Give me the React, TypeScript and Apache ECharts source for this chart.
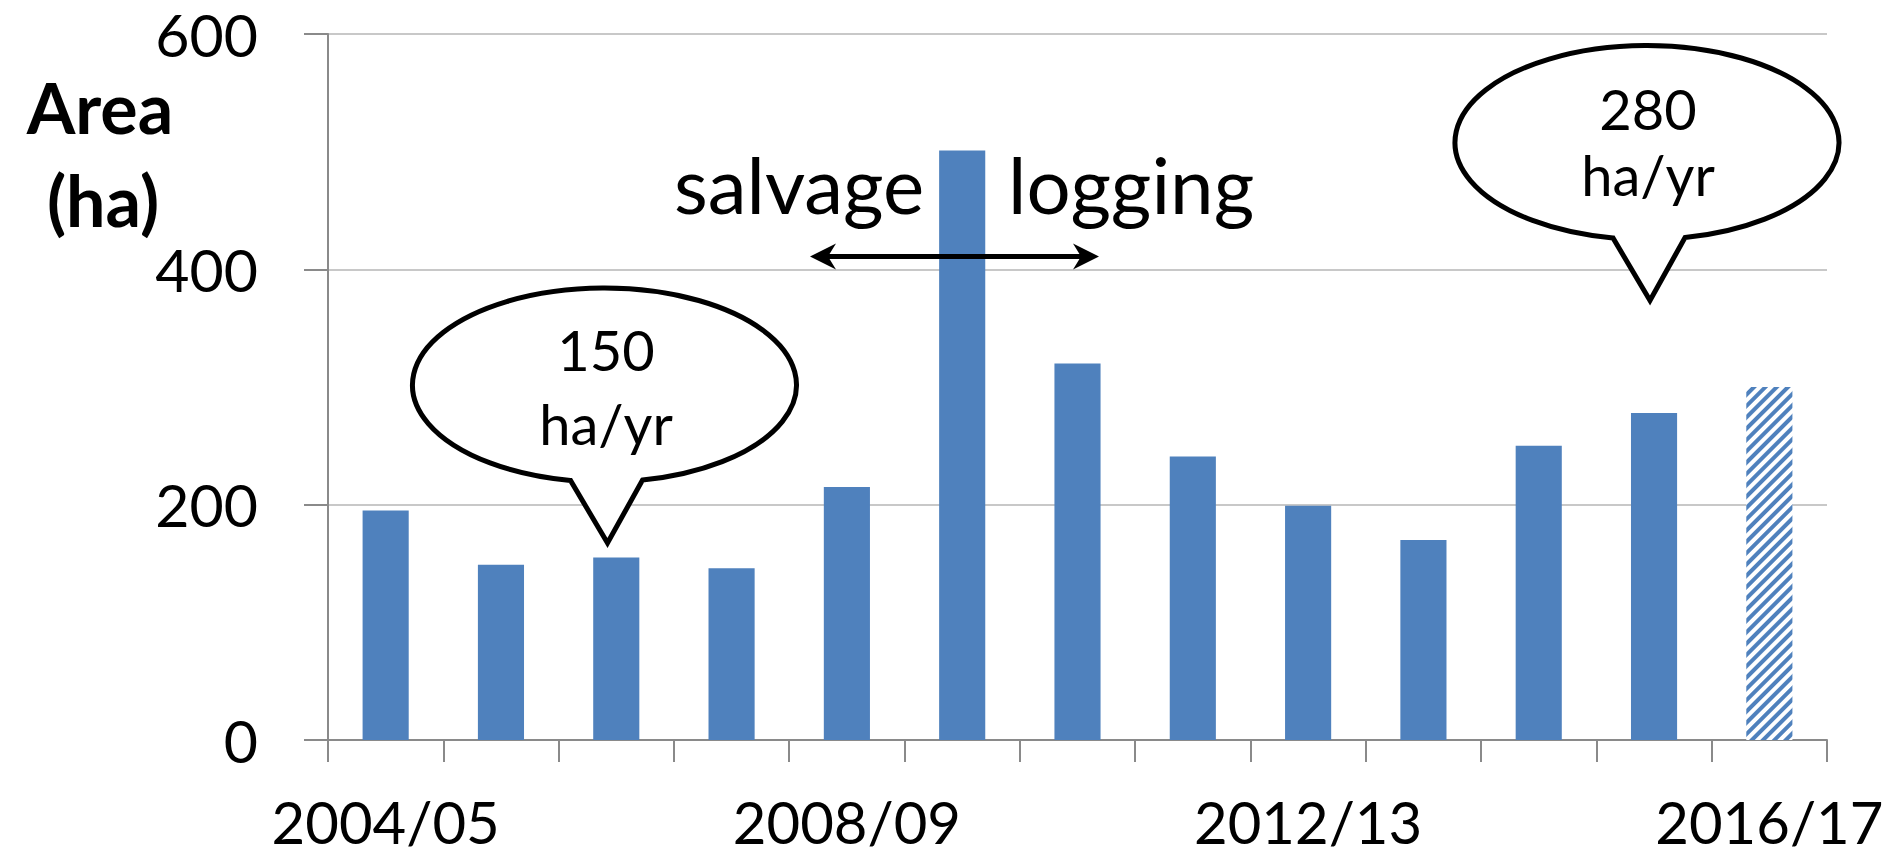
import React, { useEffect, useRef } from 'react';
import * as echarts from 'echarts';

const categories = [
  '2004/05', '2005/06', '2006/07', '2007/08', '2008/09', '2009/10', '2010/11',
  '2011/12', '2012/13', '2013/14', '2014/15', '2015/16', '2016/17',
];
const areaValues = [195, 149, 155, 146, 215, 501, 320, 241, 199, 170, 250, 278, 300];
const estimatedFlags = [false, false, false, false, false, false, false, false, false, false, false, false, true];
const yAxisMin = 0;
const yAxisMax = 600;
const yAxisStep = 200;
const yAxisTitleLines = ['Area', '(ha)'];
const periodLabels = ['salvage', 'logging'];
const balloonTexts = [
  ['150', 'ha/yr'],
  ['280', 'ha/yr'],
];

const BAR_BLUE = '#4F81BD';
const FONT = 'Lato, "Open Sans", sans-serif';

// speech balloon outline, local coordinates centred on the ellipse
const RX = 192;
const RY = 97;
const bl = -34;
const br = 38;
const ylAt = (x: number) => (RY * Math.sqrt(1 - (x / RX) * (x / RX))).toFixed(2);
const balloonPath = `M ${bl} ${ylAt(bl)} A ${RX} ${RY} 0 1 1 ${br} ${ylAt(br)} L 3 158 Z`;
echarts.graphic.registerShape('balloon', echarts.graphic.extendPath(balloonPath, {}));

export default function App() {
  const ref = useRef<HTMLDivElement>(null);

  useEffect(() => {
    document.body.style.margin = '0';
    if (!ref.current) return;
    const chart = echarts.init(ref.current, undefined, { renderer: 'svg' });

    const barData = areaValues.map((v, i) =>
      estimatedFlags[i]
        ? {
            value: v,
            itemStyle: {
              color: '#ffffff',
              decal: {
                symbol: 'rect',
                symbolSize: 1,
                dashArrayX: [1, 0],
                dashArrayY: [4, 4],
                rotation: -Math.PI / 4,
                color: BAR_BLUE,
                backgroundColor: '#ffffff',
              },
            },
          }
        : { value: v }
    );

    const textStyle = (size: number, weight: string = 'normal') => ({
      fontFamily: FONT,
      fontSize: size,
      fontWeight: weight,
      fill: '#000',
      align: 'center',
      verticalAlign: 'middle',
    });

    const arrowY = 256.5;
    const leftTip = 810;
    const rightTip = 1099;

    chart.setOption({
      animation: false,
      grid: { left: 328, right: 70, top: 34, bottom: 116, containLabel: false },
      xAxis: {
        type: 'category',
        data: categories,
        boundaryGap: true,
        axisLine: { show: true, lineStyle: { color: '#8a8a8a', width: 2 } },
        axisTick: { show: true, interval: 0, length: 22, lineStyle: { color: '#8a8a8a', width: 2 } },
        axisLabel: {
          interval: 3,
          margin: 59,
          fontFamily: FONT,
          fontSize: 58,
          lineHeight: 44,
          color: '#000',
        },
        splitLine: { show: false },
      },
      yAxis: {
        type: 'value',
        min: yAxisMin,
        max: yAxisMax,
        interval: yAxisStep,
        axisLine: { show: true, lineStyle: { color: '#8a8a8a', width: 2 } },
        axisTick: { show: true, length: 24, lineStyle: { color: '#8a8a8a', width: 2 } },
        axisLabel: {
          margin: 70,
          fontFamily: FONT,
          fontSize: 59,
          color: '#000',
        },
        splitLine: { show: true, lineStyle: { color: '#c8c8c8', width: 2 } },
      },
      series: [
        {
          type: 'bar',
          data: barData,
          barWidth: '40%',
          itemStyle: { color: BAR_BLUE },
        },
      ],
      graphic: [
        { type: 'text', x: 100, y: 107, style: { text: yAxisTitleLines[0], ...textStyle(70, 'bold') } },
        { type: 'text', x: 103, y: 200, style: { text: yAxisTitleLines[1], ...textStyle(70, 'bold') } },
        {
          type: 'text', x: 674, y: 184,
          style: { text: periodLabels[0], ...textStyle(78), align: 'left' },
        },
        {
          type: 'text', x: 1008, y: 184,
          style: { text: periodLabels[1], ...textStyle(78), align: 'left' },
        },
        {
          type: 'line', z: 100,
          shape: { x1: leftTip + 8, y1: arrowY, x2: rightTip - 8, y2: arrowY },
          style: { stroke: '#000', lineWidth: 5 },
        },
        {
          type: 'polygon', z: 100,
          shape: { points: [[leftTip, arrowY], [leftTip + 26, arrowY - 13], [leftTip + 18, arrowY], [leftTip + 26, arrowY + 13]] },
          style: { fill: '#000' },
        },
        {
          type: 'polygon', z: 100,
          shape: { points: [[rightTip, arrowY], [rightTip - 26, arrowY - 13], [rightTip - 18, arrowY], [rightTip - 26, arrowY + 13]] },
          style: { fill: '#000' },
        },
        {
          type: 'balloon', x: 604.5, y: 385, z: 100,
          style: { fill: '#ffffff', stroke: '#000', lineWidth: 5, lineJoin: 'miter' },
        },
        { type: 'text', x: 606, y: 349, z: 101, style: { text: balloonTexts[0][0], ...textStyle(56) } },
        { type: 'text', x: 606, y: 423, z: 101, style: { text: balloonTexts[0][1], ...textStyle(56) } },
        {
          type: 'balloon', x: 1647, y: 142.5, z: 100,
          style: { fill: '#ffffff', stroke: '#000', lineWidth: 5, lineJoin: 'miter' },
        },
        { type: 'text', x: 1648, y: 108, z: 101, style: { text: balloonTexts[1][0], ...textStyle(56) } },
        { type: 'text', x: 1648, y: 174, z: 101, style: { text: balloonTexts[1][1], ...textStyle(56) } },
      ],
    });

    return () => chart.dispose();
  }, []);

  return <div ref={ref} style={{ width: 1897, height: 856 }} />;
}
